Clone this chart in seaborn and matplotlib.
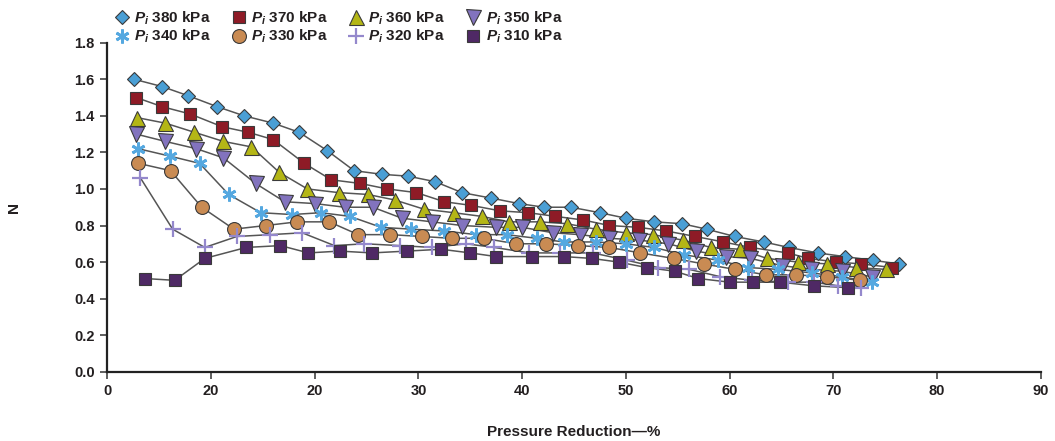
import matplotlib
matplotlib.use("Agg")
import matplotlib.pyplot as plt
import seaborn as sns
import pandas as pd
from matplotlib.lines import Line2D

# ---------------- data ----------------
x_380 = [2.6, 5.3, 7.8, 10.6, 13.2, 16.0, 18.5, 21.2, 23.8, 26.5, 29.0, 31.6, 34.2, 37.0, 39.7,
         42.1, 44.7, 47.5, 50.0, 52.7, 55.4, 57.8, 60.5, 63.3, 65.7, 68.5, 71.1, 73.8, 76.3]
n_380 = [1.60, 1.56, 1.51, 1.45, 1.40, 1.36, 1.31, 1.21, 1.10, 1.08, 1.07, 1.04, 0.98, 0.95, 0.92,
         0.90, 0.90, 0.87, 0.84, 0.82, 0.81, 0.78, 0.74, 0.71, 0.68, 0.65, 0.63, 0.61, 0.59]

x_370 = [2.8, 5.3, 8.0, 11.1, 13.6, 16.0, 19.0, 21.6, 24.4, 27.0, 29.8, 32.5, 35.1, 37.9, 40.6,
         43.2, 45.9, 48.4, 51.2, 53.9, 56.7, 59.4, 62.0, 65.6, 67.6, 70.3, 72.7, 75.7]
n_370 = [1.50, 1.45, 1.41, 1.34, 1.31, 1.27, 1.14, 1.05, 1.03, 1.00, 0.98, 0.93, 0.91, 0.88, 0.87,
         0.85, 0.83, 0.80, 0.79, 0.77, 0.74, 0.71, 0.68, 0.65, 0.62, 0.60, 0.59, 0.57]

x_360 = [2.9, 5.6, 8.4, 11.2, 13.9, 16.6, 19.3, 22.3, 25.1, 27.7, 30.5, 33.4, 36.1, 38.7, 41.7,
         44.3, 47.1, 50.0, 52.6, 55.5, 58.2, 61.0, 63.6, 66.6, 69.4, 72.2, 75.1]
n_360 = [1.39, 1.36, 1.31, 1.26, 1.23, 1.09, 1.00, 0.98, 0.97, 0.94, 0.89, 0.87, 0.85, 0.82, 0.82,
         0.81, 0.78, 0.76, 0.75, 0.72, 0.68, 0.67, 0.62, 0.60, 0.59, 0.57, 0.56]

x_350 = [2.8, 5.6, 8.6, 11.2, 14.3, 17.1, 20.0, 22.9, 25.6, 28.4, 31.3, 34.2, 37.5, 40.0, 43.0,
         45.6, 48.4, 51.3, 54.1, 56.8, 59.7, 62.0, 65.1, 67.9, 70.8, 73.7]
n_350 = [1.30, 1.26, 1.22, 1.17, 1.03, 0.93, 0.92, 0.90, 0.90, 0.84, 0.82, 0.80, 0.79, 0.79, 0.76,
         0.75, 0.73, 0.72, 0.70, 0.66, 0.63, 0.62, 0.58, 0.56, 0.55, 0.52]

x_340 = [3.0, 6.0, 8.9, 11.7, 14.8, 17.8, 20.6, 23.4, 26.4, 29.3, 32.5, 35.6, 38.5, 41.4, 44.0,
         47.1, 50.0, 52.7, 55.6, 58.9, 61.8, 64.7, 68.0, 70.8, 73.7]
n_340 = [1.22, 1.18, 1.14, 0.97, 0.87, 0.86, 0.87, 0.85, 0.79, 0.78, 0.77, 0.75, 0.75, 0.73, 0.71,
         0.71, 0.70, 0.68, 0.64, 0.61, 0.57, 0.56, 0.54, 0.52, 0.49]

x_330 = [3.0, 6.1, 9.1, 12.2, 15.3, 18.3, 21.4, 24.2, 27.3, 30.3, 33.2, 36.3, 39.4, 42.3, 45.4,
         48.4, 51.4, 54.6, 57.5, 60.5, 63.5, 66.4, 69.4, 72.6]
n_330 = [1.14, 1.10, 0.90, 0.78, 0.80, 0.82, 0.82, 0.75, 0.75, 0.74, 0.73, 0.73, 0.70, 0.70, 0.69,
         0.68, 0.65, 0.62, 0.59, 0.56, 0.53, 0.53, 0.52, 0.50]

x_320 = [3.2, 6.3, 9.4, 12.5, 15.7, 18.8, 21.9, 24.8, 28.2, 31.3, 34.6, 37.3, 40.7, 43.7, 46.8,
         50.1, 53.1, 56.1, 59.1, 62.2, 65.6, 68.1, 70.5, 72.7]
n_320 = [1.06, 0.78, 0.68, 0.74, 0.75, 0.76, 0.69, 0.70, 0.69, 0.68, 0.70, 0.68, 0.65, 0.65, 0.65,
         0.61, 0.57, 0.56, 0.52, 0.50, 0.49, 0.49, 0.47, 0.46]

x_310 = [3.6, 6.5, 9.4, 13.4, 16.7, 19.4, 22.4, 25.5, 28.9, 32.2, 35.0, 37.5, 41.0, 44.0, 46.7,
         49.3, 52.0, 54.7, 57.0, 60.0, 62.3, 64.9, 68.1, 71.4]
n_310 = [0.51, 0.50, 0.62, 0.68, 0.69, 0.65, 0.66, 0.65, 0.66, 0.67, 0.65, 0.63, 0.63, 0.63, 0.62,
         0.60, 0.57, 0.55, 0.51, 0.49, 0.49, 0.49, 0.47, 0.46]

pressures = ["380", "370", "360", "350", "340", "330", "320", "310"]
x_ticks = [0, 10, 20, 30, 40, 50, 60, 70, 80, 90]
x_tick_labels = ["0", "20", "20", "30", "40", "50", "60", "70", "80", "90"]
y_ticks = [0.0, 0.2, 0.4, 0.6, 0.8, 1.0, 1.2, 1.4, 1.6, 1.8]

xs = [x_380, x_370, x_360, x_350, x_340, x_330, x_320, x_310]
ns = [n_380, n_370, n_360, n_350, n_340, n_330, n_320, n_310]

# ---------------- styles ----------------
EDGE = "#3a3a3a"
styles = {
    "380": dict(marker="D", markersize=7.6, markerfacecolor="#4A9FD5", markeredgecolor=EDGE, markeredgewidth=0.8),
    "370": dict(marker="s", markersize=8.2, markerfacecolor="#8E1B26", markeredgecolor=EDGE, markeredgewidth=0.8),
    "360": dict(marker="^", markersize=10.8, markerfacecolor="#B4B616", markeredgecolor=EDGE, markeredgewidth=0.8),
    "350": dict(marker="v", markersize=10.8, markerfacecolor="#8273BE", markeredgecolor=EDGE, markeredgewidth=0.8),
    "340": dict(marker=(6, 2, 0), markersize=10, markerfacecolor="#55A8E0", markeredgecolor="#55A8E0", markeredgewidth=2.0),
    "330": dict(marker="o", markersize=10, markerfacecolor="#C98B53", markeredgecolor=EDGE, markeredgewidth=0.8),
    "320": dict(marker="+", markersize=11.5, markerfacecolor="#9488CC", markeredgecolor="#9488CC", markeredgewidth=1.6),
    "310": dict(marker="s", markersize=8.4, markerfacecolor="#4F2965", markeredgecolor=EDGE, markeredgewidth=0.8),
}

TEXT = "#231f20"
sns.set_style("ticks")
plt.rcParams["font.family"] = ["Liberation Sans", "DejaVu Sans"]
plt.rcParams["mathtext.fontset"] = "custom"
plt.rcParams["mathtext.it"] = "Liberation Sans:italic:bold"
plt.rcParams["mathtext.rm"] = "Liberation Sans:bold"
plt.rcParams["mathtext.bf"] = "Liberation Sans:bold"

fig = plt.figure(figsize=(10.55, 4.41), dpi=100)
ax = fig.add_axes([0.1017, 0.1571, 0.8847, 0.7460])

frames = []
for p, x, n in zip(pressures, xs, ns):
    frames.append(pd.DataFrame({"reduction": x, "N": n, "Pi": p}))
df = pd.concat(frames, ignore_index=True)

# connecting lines (behind markers)
for p in pressures:
    sub = df[df["Pi"] == p]
    sns.lineplot(data=sub, x="reduction", y="N", ax=ax, color="#555555", lw=1.1,
                 sort=False, estimator=None, zorder=1, legend=False)

# markers
handles = {}
for i, p in enumerate(pressures):
    sub = df[df["Pi"] == p]
    st = styles[p]
    sns.lineplot(data=sub, x="reduction", y="N", ax=ax, linestyle="none", sort=False,
                 estimator=None, zorder=3 + i, legend=False, **st)
    handles[p] = Line2D([], [], linestyle="none", **st)

ax.set_xlim(0, 90)
ax.set_ylim(0, 1.8)
ax.set_xticks(x_ticks)
ax.set_xticklabels(x_tick_labels)
ax.set_yticks(y_ticks)
ax.set_yticklabels([f"{v:.1f}" for v in y_ticks])
ax.tick_params(axis="both", direction="out", length=5, width=1.1, color="#333333",
               labelsize=10.5, labelcolor=TEXT, pad=4)
for lab in ax.get_xticklabels() + ax.get_yticklabels():
    lab.set_fontweight("bold")
sns.despine(ax=ax)
for s in ["left", "bottom"]:
    ax.spines[s].set_linewidth(1.6)
    ax.spines[s].set_color("#222222")

ax.set_xlabel("Pressure Reduction\u2014%", fontsize=11, fontweight="bold", color=TEXT, labelpad=19)
ax.set_ylabel("N", fontsize=11, fontweight="bold", color=TEXT, labelpad=0)
ax.yaxis.set_label_coords(-0.092, 0.5)

order = ["380", "340", "370", "330", "360", "320", "350", "310"]
leg = fig.legend([handles[p] for p in order], [rf"$P_i$ {p} kPa" for p in order],
                 ncol=4, loc="upper left", bbox_to_anchor=(0.098, 1.0), frameon=False,
                 prop={"weight": "bold", "size": 11}, handletextpad=0.2, columnspacing=1.25,
                 labelspacing=0.1, borderaxespad=0.2, handlelength=1.2)
for t in leg.get_texts():
    t.set_color(TEXT)

fig.savefig("out.png", dpi=100)
